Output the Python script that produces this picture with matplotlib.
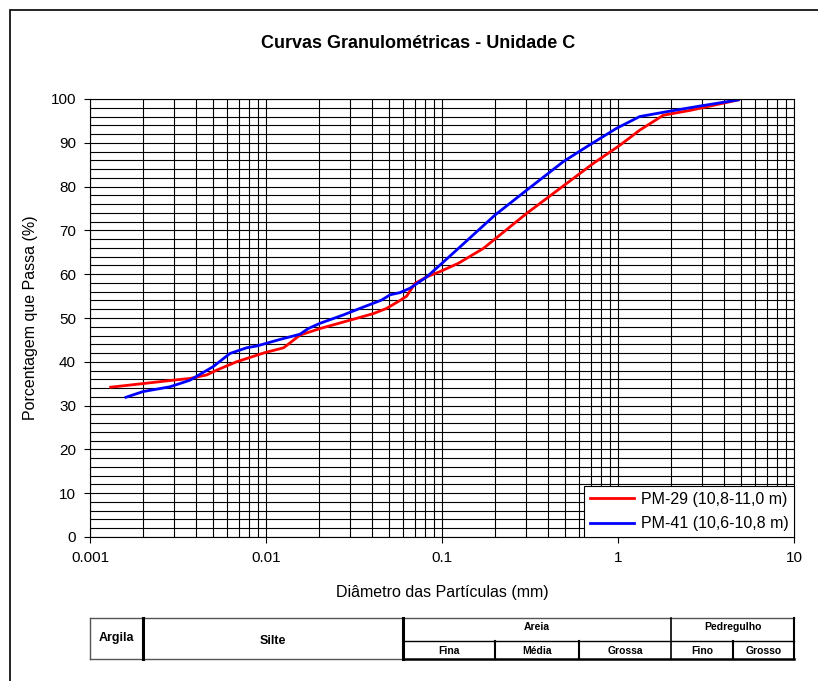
import matplotlib.pyplot as plt
from matplotlib.patches import Rectangle
from matplotlib.ticker import LogLocator, MultipleLocator, FixedLocator, FixedFormatter

plt.rcParams["font.family"] = ["Liberation Sans", "DejaVu Sans"]

# PM-29 (10,8-11,0 m)
d_pm29 = [0.00131, 0.00297, 0.0037, 0.0046, 0.00525, 0.0068, 0.00986, 0.0126,
          0.0156, 0.0203, 0.030, 0.0407, 0.0485, 0.0577, 0.063, 0.0703, 0.0819,
          0.0975, 0.124, 0.172, 0.303, 0.51, 0.724, 1.03, 1.33, 1.81, 2.57, 4.83]
p_pm29 = [34.2, 35.8, 36.2, 37.0, 38.1, 40.0, 42.1, 43.2,
          46.1, 47.6, 49.5, 51.0, 52.2, 54.0, 55.0, 57.9, 59.4,
          60.6, 62.5, 65.9, 73.9, 80.7, 85.3, 89.5, 92.9, 96.3, 97.4, 99.8]

# PM-41 (10,6-10,8 m)
d_pm41 = [0.0016, 0.0020, 0.00285, 0.0037, 0.00501, 0.00624, 0.00776, 0.00885,
          0.012, 0.0156, 0.0174, 0.0203, 0.0275, 0.0342, 0.0454, 0.0507, 0.0577,
          0.0658, 0.082, 0.0975, 0.124, 0.2, 0.303, 0.489, 0.664, 0.98, 1.33,
          1.89, 2.93, 4.83]
p_pm41 = [31.9, 33.2, 34.3, 35.8, 38.9, 41.9, 43.2, 43.6,
          45.1, 46.3, 47.6, 48.8, 50.7, 52.2, 54.1, 55.3, 55.8,
          56.8, 59.4, 62.1, 65.9, 73.5, 79.2, 85.7, 89.1, 93.3, 96.0,
          97.1, 98.4, 99.8]

x_ticks = [0.001, 0.01, 0.1, 1, 10]
x_tick_labels = ["0.001", "0.01", "0.1", "1", "10"]

# faixas granulometricas (limites em mm)
limite_argila = 0.002
limite_silte = 0.06
limite_areia_fina = 0.2
limite_areia_media = 0.6
limite_areia = 2.0
limite_pedregulho_fino = 4.5

W, H = 818, 681
fig = plt.figure(figsize=(W / 100, H / 100), dpi=100)


def box(x0, y0, x1, y1):
    # pixels (origem no topo) -> fracao da figura
    return [x0 / W, 1 - y1 / H, (x1 - x0) / W, (y1 - y0) / H]


fig.add_artist(Rectangle((10 / W, -0.05), 1.1, (H - 10) / H + 0.05,
                         transform=fig.transFigure, fill=False,
                         edgecolor="black", linewidth=1.2))

ax = fig.add_axes(box(90, 99, 794, 537))
ax.set_xscale("log")
ax.set_xlim(0.001, 10)
ax.set_ylim(0, 100)

ax.plot(d_pm29, p_pm29, color="#ff0000", linewidth=2, label="PM-29 (10,8-11,0 m)")
ax.plot(d_pm41, p_pm41, color="#0000ff", linewidth=2, label="PM-41 (10,6-10,8 m)")

ax.xaxis.set_major_locator(FixedLocator(x_ticks))
ax.xaxis.set_major_formatter(FixedFormatter(x_tick_labels))
ax.xaxis.set_minor_locator(LogLocator(base=10, subs=range(2, 10), numticks=20))
ax.yaxis.set_major_locator(MultipleLocator(10))
ax.yaxis.set_minor_locator(MultipleLocator(2))
ax.grid(True, which="both", color="black", linewidth=0.8)
ax.set_axisbelow(True)
ax.tick_params(which="major", direction="out", length=4, width=0.8,
               labelsize=11, pad=6)
ax.tick_params(which="minor", length=0)
for s in ax.spines.values():
    s.set_linewidth(0.8)

leg = ax.legend(loc="lower right", borderaxespad=0, fontsize=11.5,
                handlelength=2.8, labelspacing=0.6, fancybox=False,
                framealpha=1, edgecolor="black", borderpad=0.35,
                handletextpad=0.4)
leg.get_frame().set_linewidth(0.8)

fig.text(418 / W, 1 - 43 / H, "Curvas Granulométricas - Unidade C",
         ha="center", va="center", fontsize=13, fontweight="bold")
fig.text(442 / W, 1 - 592 / H, "Diâmetro das Partículas (mm)",
         ha="center", va="center", fontsize=11.5)
fig.text(30 / W, 1 - 318 / H, "Porcentagem que Passa (%)",
         ha="center", va="center", fontsize=11.5, rotation=90)

# tabela de classificacao
at = fig.add_axes(box(90, 618, 794, 659))
at.set_xscale("log")
at.set_xlim(0.001, 10)
at.set_ylim(0, 1)
at.axis("off")
mid = 0.44
lo, hi = 0.001, 10
gray = "#555555"
at.plot([lo, hi], [1, 1], color=gray, lw=1, clip_on=False)
at.plot([lo, limite_silte], [0, 0], color=gray, lw=1, clip_on=False)
at.plot([limite_silte, hi], [0, 0], color="black", lw=1.8, clip_on=False)
at.plot([lo, lo], [0, 1], color=gray, lw=1, clip_on=False)
at.plot([hi, hi], [0, 1], color="black", lw=1.5, clip_on=False)
at.plot([limite_argila, limite_argila], [0, 1], color="black", lw=2.2, clip_on=False)
at.plot([limite_silte, limite_silte], [0, 1], color="black", lw=2.2, clip_on=False)
at.plot([limite_areia, limite_areia], [0, 1], color="black", lw=1.2, clip_on=False)
at.plot([limite_silte, hi], [mid, mid], color="black", lw=1, clip_on=False)
for xb in [limite_areia_fina, limite_areia_media, limite_pedregulho_fino]:
    at.plot([xb, xb], [0, mid], color="black", lw=1.5, clip_on=False)


def gm(a, b):
    return (a * b) ** 0.5


at.text(gm(lo, limite_argila), 0.51, "Argila", ha="center", va="center",
        fontsize=9, fontweight="bold")
at.text(gm(limite_argila, limite_silte), 0.45, "Silte", ha="center", va="center",
        fontsize=9, fontweight="bold")
at.text(gm(limite_silte, limite_areia), 0.78, "Areia", ha="center", va="center",
        fontsize=7.5, fontweight="bold")
at.text(gm(limite_areia, hi), 0.78, "Pedregulho", ha="center", va="center",
        fontsize=7.5, fontweight="bold")
sub = [("Fina", limite_silte, limite_areia_fina),
       ("Média", limite_areia_fina, limite_areia_media),
       ("Grossa", limite_areia_media, limite_areia),
       ("Fino", limite_areia, limite_pedregulho_fino),
       ("Grosso", limite_pedregulho_fino, hi)]
for nome, a, b in sub:
    at.text(gm(a, b), 0.2, nome, ha="center", va="center",
            fontsize=7.5, fontweight="bold")

fig.savefig("out.png", dpi=100)
